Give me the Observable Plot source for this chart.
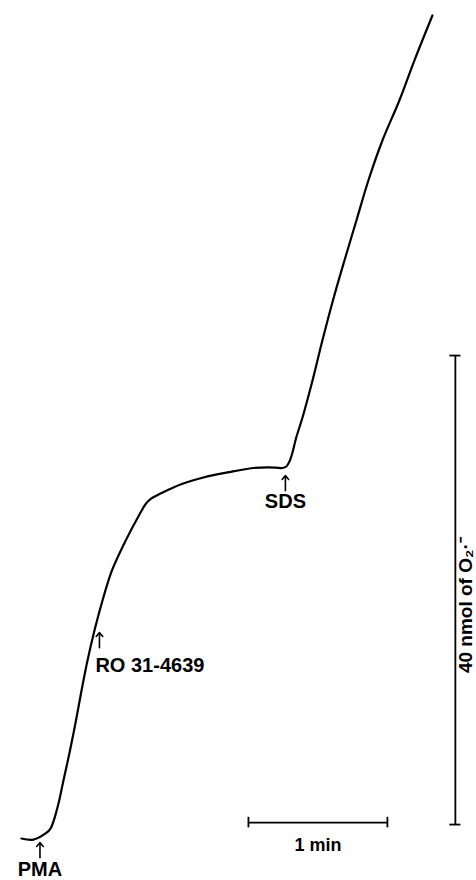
<!DOCTYPE html>
<html><head><meta charset="utf-8">
<script src="https://cdn.jsdelivr.net/npm/d3@7"></script>
<script src="https://cdn.jsdelivr.net/npm/@observablehq/plot@0.6"></script>
<style>html,body{margin:0;padding:0;background:#fff}#chart svg{display:block}</style>
</head><body><div id="chart"></div>
<script>
// Trace: time (min) vs cumulative O2·− (nmol)
const time = [0, 0.086, 0.173, 0.209, 0.259, 0.302, 0.349, 0.392, 0.432, 0.475, 0.525, 0.583, 0.651, 0.745, 0.850, 0.895, 0.935, 0.980, 1.000, 1.144, 1.309, 1.482, 1.669, 1.827, 1.878, 1.906, 1.928, 1.950, 1.975, 2.022, 2.094, 2.165, 2.241, 2.324, 2.410, 2.496, 2.597, 2.719, 2.827, 2.957];
const o2 = [0, -0.09, 0.43, 0.85, 2.64, 4.95, 7.51, 10.06, 12.62, 15.18, 17.74, 20.30, 22.86, 25.30, 27.65, 28.55, 29.00, 29.30, 29.42, 30.19, 30.79, 31.22, 31.60, 31.64, 31.60, 31.73, 32.15, 32.92, 34.11, 35.91, 39.06, 42.47, 45.89, 49.30, 52.71, 56.12, 59.53, 62.94, 66.35, 70.19];

// Additions (arrows)
const eventLabels = ["PMA", "RO 31-4639", "SDS"];
const eventTime = [0.133, 0.561, 1.899];
const eventLevel = [-0.34, 17.57, 30.96];

// Scale bars
const timeBar = [1.633, 2.633];       // 1 min
const timeBarLevel = 1.36;
const o2Bar = [1.19, 41.19];          // 40 nmol
const o2BarTime = 3.122;

const trace = time.map((t, i) => ({t, v: o2[i]}));
const events = eventLabels.map((label, i) => ({label, t: eventTime[i], v: eventLevel[i]}));

const font = "Liberation Sans, Arial, Helvetica, sans-serif";
const arrowLen = 1.3;

const chart = Plot.plot({
  width: 476,
  height: 880,
  margin: 0,
  style: {fontFamily: font, background: "#fff", color: "#000"},
  x: {domain: [-0.151, 3.274], axis: null},
  y: {domain: [-3.58, 71.47], axis: null},
  marks: [
    Plot.line(trace, {x: "t", y: "v", stroke: "#000", strokeWidth: 2.2, curve: "catmull-rom"}),
    // arrows
    Plot.arrow(events, {
      x1: "t", x2: "t",
      y1: d => d.v - arrowLen, y2: "v",
      stroke: "#000", strokeWidth: 1.6, headLength: 8, headAngle: 80, bend: 0
    }),
    // labels
    Plot.text(events.filter(d => d.label === "PMA"), {
      x: "t", y: d => d.v - 2.3, text: "label", fontSize: 20, textAnchor: "middle", lineAnchor: "middle", fill: "#000", fontWeight: 600
    }),
    Plot.text(events.filter(d => d.label === "RO 31-4639"), {
      x: d => d.t - 0.029, y: d => d.v - 2.85, text: "label", fontSize: 20, textAnchor: "start", lineAnchor: "middle", fill: "#000", fontWeight: 600
    }),
    Plot.text(events.filter(d => d.label === "SDS"), {
      x: "t", y: d => d.v - 2.25, text: "label", fontSize: 20, textAnchor: "middle", lineAnchor: "middle", fill: "#000", fontWeight: 600
    }),
    // 1 min scale bar
    Plot.ruleY([timeBarLevel], {x1: timeBar[0], x2: timeBar[1], stroke: "#000", strokeWidth: 1.8}),
    Plot.ruleX(timeBar, {y1: timeBarLevel - 0.45, y2: timeBarLevel + 0.45, stroke: "#000", strokeWidth: 1.8}),
    Plot.text(["1 min"], {x: (timeBar[0] + timeBar[1]) / 2, y: timeBarLevel - 1.96, text: d => d, fontSize: 18, textAnchor: "middle", lineAnchor: "middle", fill: "#000", fontWeight: 600}),
    // 40 nmol scale bar
    Plot.ruleX([o2BarTime], {y1: o2Bar[0], y2: o2Bar[1], stroke: "#000", strokeWidth: 1.8}),
    Plot.ruleY(o2Bar, {x1: o2BarTime - 0.04, x2: o2BarTime + 0.04, stroke: "#000", strokeWidth: 1.8}),
    Plot.text(["40 nmol of O\u2082\u00b7\u207b"], {x: 3.199, y: 19.9, text: d => d, fontSize: 19, rotate: -90, textAnchor: "middle", lineAnchor: "middle", fill: "#000", fontWeight: 600})
  ]
});
document.getElementById("chart").append(chart);
</script>
</body></html>
